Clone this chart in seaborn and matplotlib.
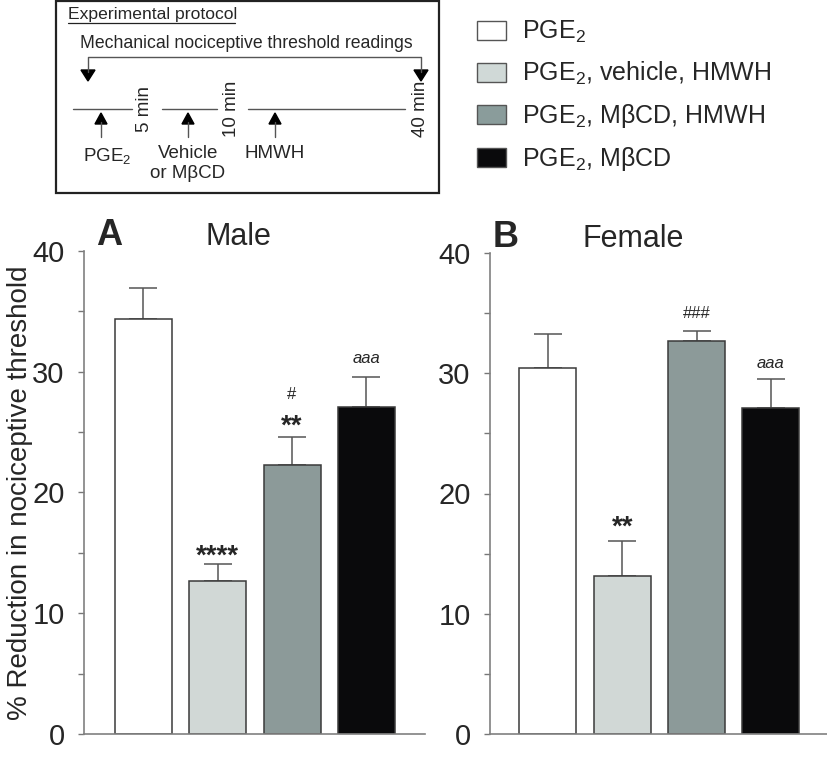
import numpy as np
import pandas as pd
import matplotlib
matplotlib.use("Agg")
import matplotlib.pyplot as plt
from matplotlib.patches import Patch, Rectangle, Polygon
import seaborn as sns

# data
groups = ["PGE$_2$", "PGE$_2$, vehicle, HMWH", "PGE$_2$, MβCD, HMWH", "PGE$_2$, MβCD"]
colors = ["#ffffff", "#d0d9d7", "#8a9c9b", "#0a0a0c"]

male_mean = [34.4, 12.65, 22.3, 27.1]
male_sem = [2.5, 1.4, 2.3, 2.45]
female_mean = [30.4, 13.1, 32.7, 27.1]
female_sem = [2.9, 2.95, 0.8, 2.4]

# significance marks: (bar index, text, y)
male_marks = [(1, "****", 14.7), (2, "**", 25.45), (2, "#", 28.1), (3, "aaa", 31.1)]
female_marks = [(1, "**", 17.15), (2, "###", 35.0), (3, "aaa", 30.85)]

sns.set_style("white")
plt.rcParams["font.family"] = ["Liberation Sans", "DejaVu Sans"]
plt.rcParams["mathtext.default"] = "regular"

W, H = 828, 779
fig = plt.figure(figsize=(W / 100, H / 100), dpi=100)

# ---- protocol schematic, drawn in pixel space ----
ax0 = fig.add_axes([0, 0, 1, 1])
ax0.set_xlim(0, W)
ax0.set_ylim(H, 0)
ax0.axis("off")

ax0.add_patch(Rectangle((56, 1), 383, 192, fill=False, ec="#222222", lw=1.6))
ax0.text(68, 14, "Experimental protocol", fontsize=12.6, va="center", ha="left")
ax0.plot([68, 235], [23, 23], color="#222222", lw=0.9)
ax0.text(80, 43, "Mechanical nociceptive threshold readings", fontsize=12.7, va="center", ha="left")
gray = "#555555"
ax0.plot([88, 88, 421, 421], [72, 57, 57, 72], color=gray, lw=1)
for x in [88, 421]:
    ax0.add_patch(Polygon([(x - 7, 70), (x + 7, 70), (x, 81)], closed=True, color="black"))
for x0, x1 in [(73, 132), (162, 217), (248, 405)]:
    ax0.plot([x0, x1], [109, 109], color=gray, lw=1)
for x, lab in [(145, "5 min"), (232, "10 min"), (421, "40 min")]:
    ax0.text(x, 109, lab, rotation=90, fontsize=13.5, ha="center", va="center")
for x in [101, 188, 275]:
    ax0.plot([x, x], [122, 137], color=gray, lw=1)
    ax0.add_patch(Polygon([(x - 6, 124), (x + 6, 124), (x, 113)], closed=True, color="black"))
ax0.text(107, 156, "PGE$_2$", fontsize=13.5, ha="center", va="center")
ax0.text(188, 153, "Vehicle", fontsize=13.5, ha="center", va="center")
ax0.text(188, 173, "or MβCD", fontsize=13.5, ha="center", va="center")
ax0.text(275, 153, "HMWH", fontsize=13.5, ha="center", va="center")

# ---- legend ----
handles = [Patch(facecolor=c, edgecolor="#555555", lw=1) for c in colors]
fig.legend(handles, groups, loc="upper left", bbox_to_anchor=(477 / W, 1 - 19 / H),
           frameon=False, fontsize=18, handlelength=1.16, handleheight=0.76,
           handletextpad=0.64, labelspacing=0.6, borderpad=0, borderaxespad=0)


def panel(rect, means, sems, marks, letter, title, xlim, letter_x, title_x):
    ax = fig.add_axes(rect)
    df = pd.DataFrame({"group": groups, "value": means})
    sns.barplot(data=df, x="group", y="value", hue="group", order=groups, hue_order=groups,
                palette=dict(zip(groups, colors)), width=0.767, edgecolor="#3a3a3a",
                linewidth=1.1, legend=False, ax=ax)
    ax.errorbar(np.arange(4), means, yerr=[np.zeros(4), sems], fmt="none",
                ecolor="#555555", elinewidth=1.1, capsize=10, capthick=1.1, zorder=1)
    for p in ax.patches:
        p.set_zorder(2)
    for i, txt, y in marks:
        if txt.startswith("*"):
            ax.text(i, y, txt, ha="center", va="center", fontsize=20, fontweight="bold")
        elif txt.startswith("#"):
            ax.text(i, y, txt, ha="center", va="center", fontsize=12)
        else:
            ax.text(i, y, txt, ha="center", va="center", fontsize=12, style="italic")
    ax.set_ylim(0, 40)
    ax.set_xlim(*xlim)
    ax.set_yticks([0, 10, 20, 30, 40])
    ax.set_yticks([5, 15, 25, 35], minor=True)
    ax.set_xticks([])
    ax.set_xlabel("")
    ax.set_ylabel("")
    ax.tick_params(axis="y", which="both", direction="out", length=4, width=1,
                   color="#777777", labelsize=21, pad=10, left=True)
    for s in ["top", "right"]:
        ax.spines[s].set_visible(False)
    for s in ["left", "bottom"]:
        ax.spines[s].set_color("#808080")
        ax.spines[s].set_linewidth(1.2)
    ax.text(letter_x, 1.012, letter, transform=ax.transAxes, fontsize=26,
            fontweight="bold", ha="left", va="baseline")
    ax.text(title_x, 1.012, title, transform=ax.transAxes, fontsize=22,
            ha="center", va="baseline")
    return ax


axA = panel([84 / W, (H - 734) / H, 341 / W, 483 / H], male_mean, male_sem, male_marks,
            "A", "Male", (-0.80, 3.79), 0.035, 0.452)
axA.set_ylabel("% Reduction in nociceptive threshold", fontsize=20)
axA.yaxis.set_label_coords(-0.15, 0.5)
axB = panel([490 / W, (H - 734) / H, 338 / W, 481 / H], female_mean, female_sem, female_marks,
            "B", "Female", (-0.78, 3.77), 0.009, 0.423)

fig.savefig("out.png", dpi=100)
